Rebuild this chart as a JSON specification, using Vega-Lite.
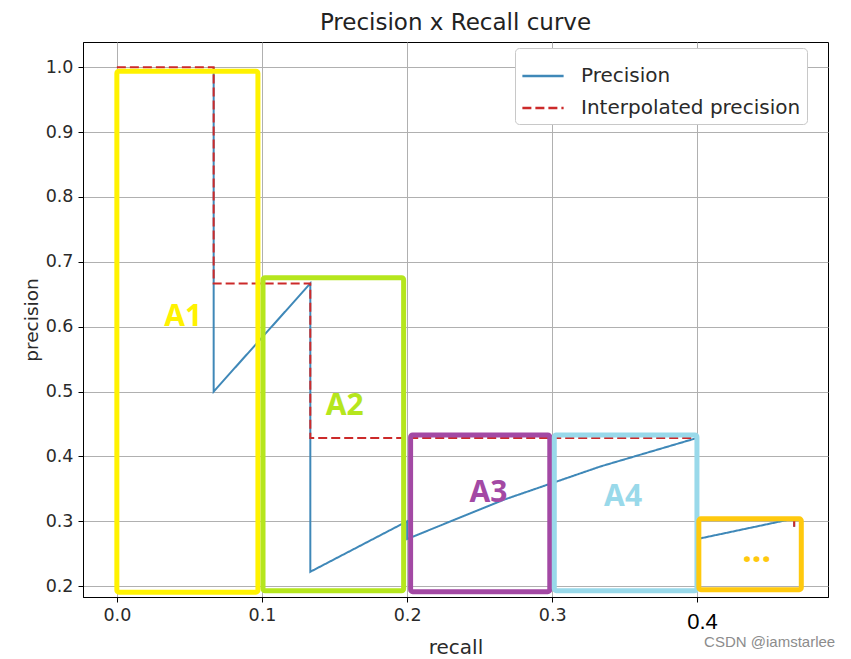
{
  "$schema": "https://vega.github.io/schema/vega-lite/v6.json",
  "width": 745,
  "height": 555,
  "autosize": {"type": "none"},
  "padding": {"left": 83, "top": 42, "right": 23, "bottom": 62},
  "background": "white",
  "title": {"text": "Precision x Recall curve", "fontSize": 23, "font": "DejaVu Sans", "fontWeight": "normal", "color": "#222222", "anchor": "middle", "offset": 7},
  "config": {
    "font": "DejaVu Sans",
    "view": {"stroke": "black", "strokeWidth": 1},
    "axis": {
      "gridColor": "#b0b0b0", "gridWidth": 1, "gridOpacity": 1,
      "domainColor": "black", "tickColor": "black", "tickSize": 5, "tickWidth": 1,
      "labelFont": "DejaVu Sans", "labelFontSize": 17.5, "labelColor": "#2a2a2a",
      "titleFont": "DejaVu Sans", "titleFontWeight": "normal", "titleColor": "#2a2a2a"
    },
    "legend": {
      "labelFont": "DejaVu Sans", "labelFontSize": 20, "labelColor": "#2a2a2a", "labelLimit": 0,
      "fillColor": "white", "strokeColor": "#c8c8c8", "cornerRadius": 4, "padding": 6
    }
  },
  "layer": [
    {
      "data": {"values": [
        {"series": "Precision", "i": 0, "recall": 0.0667, "precision": 1.0},
        {"series": "Precision", "i": 1, "recall": 0.0667, "precision": 0.5},
        {"series": "Precision", "i": 2, "recall": 0.1333, "precision": 0.6667},
        {"series": "Precision", "i": 3, "recall": 0.1333, "precision": 0.5},
        {"series": "Precision", "i": 4, "recall": 0.1333, "precision": 0.4},
        {"series": "Precision", "i": 5, "recall": 0.1333, "precision": 0.3333},
        {"series": "Precision", "i": 6, "recall": 0.1333, "precision": 0.2857},
        {"series": "Precision", "i": 7, "recall": 0.1333, "precision": 0.25},
        {"series": "Precision", "i": 8, "recall": 0.1333, "precision": 0.2222},
        {"series": "Precision", "i": 9, "recall": 0.2, "precision": 0.3},
        {"series": "Precision", "i": 10, "recall": 0.2, "precision": 0.2727},
        {"series": "Precision", "i": 11, "recall": 0.2667, "precision": 0.3333},
        {"series": "Precision", "i": 12, "recall": 0.3333, "precision": 0.3846},
        {"series": "Precision", "i": 13, "recall": 0.4, "precision": 0.4286},
        {"series": "Precision", "i": 14, "recall": 0.4, "precision": 0.4},
        {"series": "Precision", "i": 15, "recall": 0.4, "precision": 0.375},
        {"series": "Precision", "i": 16, "recall": 0.4, "precision": 0.3529},
        {"series": "Precision", "i": 17, "recall": 0.4, "precision": 0.3333},
        {"series": "Precision", "i": 18, "recall": 0.4, "precision": 0.3158},
        {"series": "Precision", "i": 19, "recall": 0.4, "precision": 0.3},
        {"series": "Precision", "i": 20, "recall": 0.4, "precision": 0.2857},
        {"series": "Precision", "i": 21, "recall": 0.4, "precision": 0.2727},
        {"series": "Precision", "i": 22, "recall": 0.4667, "precision": 0.3043},
        {"series": "Precision", "i": 23, "recall": 0.4667, "precision": 0.2917},
        {"series": "Interpolated precision", "i": 0, "recall": 0.0, "precision": 1.0},
        {"series": "Interpolated precision", "i": 1, "recall": 0.0667, "precision": 1.0},
        {"series": "Interpolated precision", "i": 2, "recall": 0.0667, "precision": 0.6667},
        {"series": "Interpolated precision", "i": 3, "recall": 0.1333, "precision": 0.6667},
        {"series": "Interpolated precision", "i": 4, "recall": 0.1333, "precision": 0.5},
        {"series": "Interpolated precision", "i": 5, "recall": 0.1333, "precision": 0.4286},
        {"series": "Interpolated precision", "i": 6, "recall": 0.2, "precision": 0.4286},
        {"series": "Interpolated precision", "i": 7, "recall": 0.2667, "precision": 0.4286},
        {"series": "Interpolated precision", "i": 8, "recall": 0.3333, "precision": 0.4286},
        {"series": "Interpolated precision", "i": 9, "recall": 0.4, "precision": 0.4286},
        {"series": "Interpolated precision", "i": 10, "recall": 0.4, "precision": 0.4},
        {"series": "Interpolated precision", "i": 11, "recall": 0.4, "precision": 0.375},
        {"series": "Interpolated precision", "i": 12, "recall": 0.4, "precision": 0.3529},
        {"series": "Interpolated precision", "i": 13, "recall": 0.4, "precision": 0.3333},
        {"series": "Interpolated precision", "i": 14, "recall": 0.4, "precision": 0.3158},
        {"series": "Interpolated precision", "i": 15, "recall": 0.4, "precision": 0.3043},
        {"series": "Interpolated precision", "i": 16, "recall": 0.4667, "precision": 0.3043},
        {"series": "Interpolated precision", "i": 17, "recall": 0.4667, "precision": 0.2917}
      ]},
      "mark": {"type": "line", "strokeWidth": 2, "clip": true},
      "encoding": {
        "x": {"field": "recall", "type": "quantitative",
              "scale": {"domain": [-0.02333, 0.49], "nice": false, "zero": false},
              "axis": {"values": [0, 0.1, 0.2, 0.3, 0.4], "labelExpr": "datum.value > 0.35 ? '' : format(datum.value, '.1f')", "title": "recall", "titleFontSize": 20, "labelPadding": 4, "titlePadding": 14, "grid": true}},
        "y": {"field": "precision", "type": "quantitative",
              "scale": {"domain": [0.1833, 1.0389], "nice": false, "zero": false},
              "axis": {"values": [0.2, 0.3, 0.4, 0.5, 0.6, 0.7, 0.8, 0.9, 1.0], "format": ".1f", "title": "precision", "titleFontSize": 18.5, "labelPadding": 5, "titlePadding": 4, "grid": true}},
        "color": {"field": "series", "type": "nominal",
                  "scale": {"domain": ["Precision", "Interpolated precision"], "range": ["#3f88b8", "#cc2a2a"]},
                  "legend": {"title": null, "orient": "none", "legendX": 432, "legendY": 6, "symbolType": "stroke", "symbolSize": 1700, "symbolStrokeWidth": 2.5, "labelOffset": 16, "rowPadding": -7}},
        "strokeDash": {"field": "series", "type": "nominal",
                  "scale": {"domain": ["Precision", "Interpolated precision"], "range": [[1, 0], [9, 4]]},
                  "legend": {"title": null, "orient": "none", "legendX": 432, "legendY": 6, "symbolType": "stroke", "symbolSize": 1700, "symbolStrokeWidth": 2.5, "labelOffset": 16, "rowPadding": -7}},
        "order": {"field": "i", "type": "quantitative"}
      }
    },
    {
      "data": {"values": [
        {"name": "A1", "recall": 0.0, "recall2": 0.0972, "precision": 0.994, "precision2": 0.1908},
        {"name": "A2", "recall": 0.1007, "recall2": 0.1976, "precision": 0.6754, "precision2": 0.193},
        {"name": "A3", "recall": 0.2024, "recall2": 0.2983, "precision": 0.433, "precision2": 0.1915},
        {"name": "A4", "recall": 0.3014, "recall2": 0.3997, "precision": 0.433, "precision2": 0.1931},
        {"name": "A5", "recall": 0.401, "recall2": 0.4716, "precision": 0.3038, "precision2": 0.1946}
      ]},
      "mark": {"type": "rect", "fill": "transparent", "strokeWidth": 5, "cornerRadius": 2, "strokeJoin": "round"},
      "encoding": {
        "x": {"field": "recall", "type": "quantitative"},
        "x2": {"field": "recall2"},
        "y": {"field": "precision", "type": "quantitative"},
        "y2": {"field": "precision2"},
        "stroke": {"field": "name", "type": "nominal",
                   "scale": {"domain": ["A1", "A2", "A3", "A4", "A5"], "range": ["#fff200", "#b5e61d", "#a349a4", "#99d9ea", "#ffc90e"]},
                   "legend": null}
      }
    },
    {
      "data": {"values": [
        {"name": "A1", "label": "A1", "recall": 0.0457, "precision": 0.6154},
        {"name": "A2", "label": "A2", "recall": 0.157, "precision": 0.477},
        {"name": "A3", "label": "A3", "recall": 0.256, "precision": 0.343},
        {"name": "A4", "label": "A4", "recall": 0.3488, "precision": 0.338}
      ]},
      "mark": {"type": "text", "font": "Noto Sans", "fontWeight": "bold", "fontSize": 30, "align": "center", "baseline": "middle"},
      "encoding": {
        "x": {"field": "recall", "type": "quantitative"},
        "y": {"field": "precision", "type": "quantitative"},
        "text": {"field": "label"},
        "fill": {"field": "name", "type": "nominal",
                 "scale": {"domain": ["A1", "A2", "A3", "A4", "A5"], "range": ["#fff200", "#b5e61d", "#a349a4", "#99d9ea", "#ffc90e"]},
                 "legend": null}
      }
    },
    {
      "data": {"values": [{"label": "...", "recall": 0.4408, "precision": 0.237}]},
      "mark": {"type": "text", "font": "Noto Sans", "fontWeight": "bold", "fontSize": 34, "align": "center", "baseline": "alphabetic", "color": "#ffc90e"},
      "encoding": {
        "x": {"field": "recall", "type": "quantitative"},
        "y": {"field": "precision", "type": "quantitative"},
        "text": {"field": "label"}
      }
    },
    {
      "data": {"values": [{"label": "0.4", "recall": 0.4035, "precision": 0.1446}]},
      "mark": {"type": "text", "font": "Liberation Sans", "fontSize": 22, "align": "center", "baseline": "middle", "color": "black"},
      "encoding": {
        "x": {"field": "recall", "type": "quantitative"},
        "y": {"field": "precision", "type": "quantitative"},
        "text": {"field": "label"}
      }
    },
    {
      "data": {"values": [{"label": "CSDN @iamstarlee", "recall": 0.4498, "precision": 0.1138}]},
      "mark": {"type": "text", "font": "Liberation Sans", "fontSize": 15, "align": "center", "baseline": "middle", "color": "#8c8c8c"},
      "encoding": {
        "x": {"field": "recall", "type": "quantitative"},
        "y": {"field": "precision", "type": "quantitative"},
        "text": {"field": "label"}
      }
    }
  ]
}
